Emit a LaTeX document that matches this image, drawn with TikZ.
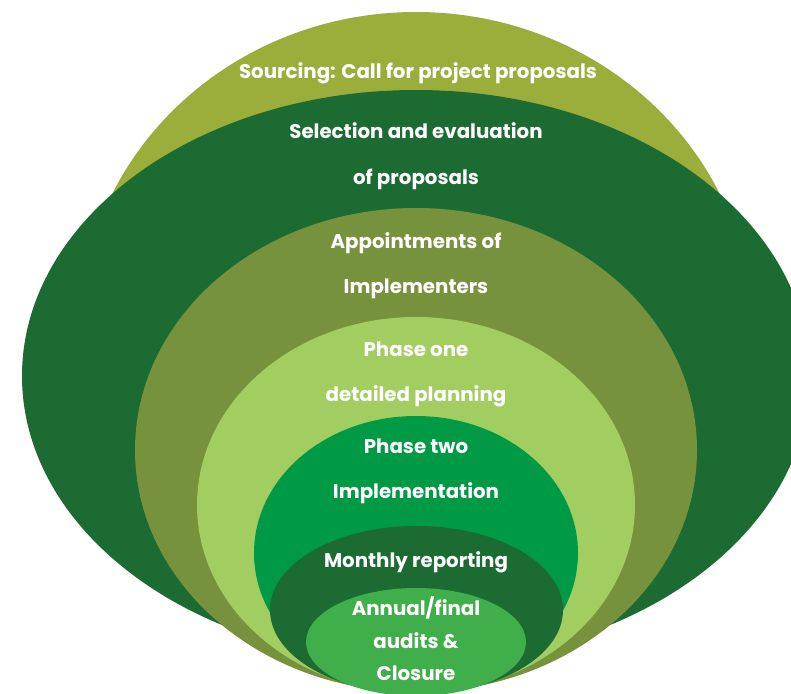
\documentclass[tikz,border=0pt]{standalone}
\usepackage{fontspec}
\setmainfont{Poppins}
\definecolor{oliveA}{HTML}{9BAE3B}
\definecolor{darkG}{HTML}{1B6B33}
\definecolor{oliveB}{HTML}{76923D}
\definecolor{lightG}{HTML}{A2CD61}
\definecolor{brightG}{HTML}{009A47}
\definecolor{midG}{HTML}{40AE4A}
\tikzset{
  lbl/.style={text=white, font=\fontsize{19.8}{22}\selectfont\bfseries, inner sep=0pt, anchor=base},
}
\begin{document}
\begin{tikzpicture}[x=1pt,y=-1pt]
\useasboundingbox (0,0) rectangle (791,693);
\fill[white] (0,0) rectangle (791,693);
\begin{scope}
\clip (0,0) rectangle (791,693);
\fill[oliveA] (416,330) ellipse [x radius=336pt, y radius=318pt];
\fill[darkG] (416,376) ellipse [x radius=394pt, y radius=286pt];
\fill[oliveB] (416,450) ellipse [x radius=281pt, y radius=242pt];
\fill[lightG] (416,505) ellipse [x radius=219pt, y radius=188pt];
\fill[brightG] (416,553) ellipse [x radius=162pt, y radius=137pt];
\fill[darkG] (416.5,610) ellipse [x radius=146.5pt, y radius=84pt];
\fill[midG] (416,642) ellipse [x radius=110pt, y radius=54pt];
\end{scope}
\node[lbl] (t1) at (418,78) {Sourcing: Call for project proposals};
\node[lbl] (t2) at (416,138) {Selection and evaluation};
\node[lbl] (t3) at (416,184) {of proposals};
\node[lbl] (t4) at (416,248) {Appointments of};
\node[lbl] (t5) at (416,293) {Implementers};
\node[lbl] (t6) at (416,356) {Phase one};
\node[lbl] (t7) at (416,401) {detailed planning};
\node[lbl] (t8) at (416,453) {Phase two};
\node[lbl] (t9) at (416,498) {Implementation};
\node[lbl] (t10) at (416,567) {Monthly reporting};
\node[lbl] (t11) at (416,615) {Annual/final};
\node[lbl] (t12) at (416,648) {audits \&};
\node[lbl] (t13) at (416,680) {Closure};
\end{tikzpicture}
\end{document}
